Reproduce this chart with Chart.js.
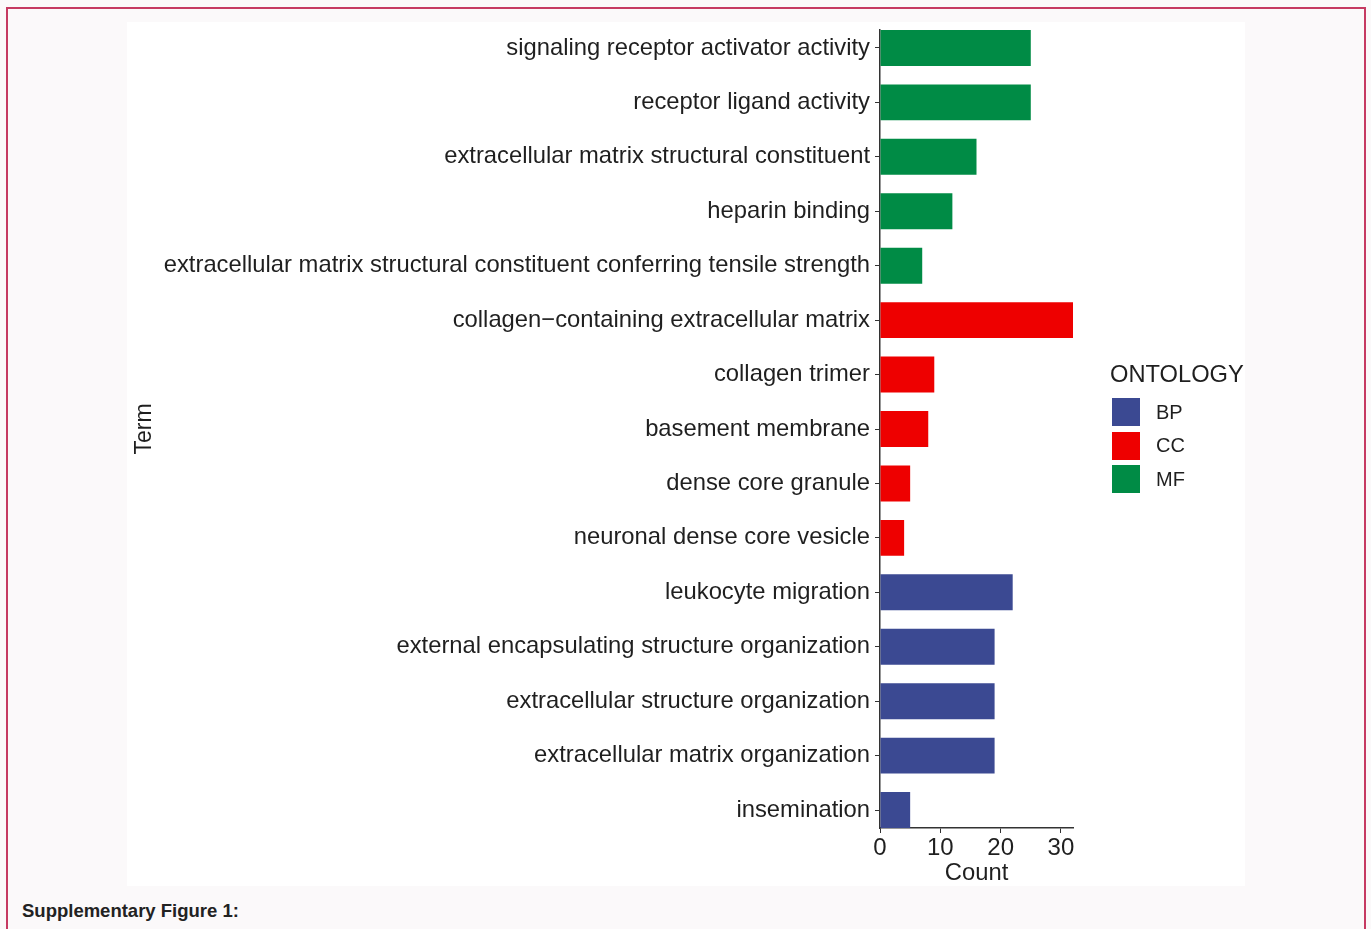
<!DOCTYPE html>
<html>
<head>
<meta charset="utf-8">
<script src="https://cdn.jsdelivr.net/npm/chart.js@4.4.0/dist/chart.umd.min.js"></script>
<style>
  body { margin: 0; background: #fbf9fa; font-family: "Liberation Sans", Arial, sans-serif; }
  #frame { position: absolute; left: 6px; top: 7px; width: 1356px; height: 1000px; border-left: 2px solid #c63a62; border-top: 2px solid #c63a62; border-right: 2px solid #c63a62; }
  #panel { position: absolute; left: 127px; top: 22px; width: 1118px; height: 864px; background: #fff; }
  #wrap { position: absolute; left: 0; top: 0; width: 1118px; height: 864px; }
  #legend { position: absolute; left: 983px; top: 340px; color: #1f1f1f; }
  #legend .title { font-size: 23.7px; line-height: 24px; margin-bottom: 9.25px; }
  #legend .item { display: flex; align-items: center; height: 33.5px; }
  #legend .box { width: 28px; height: 28px; margin-left: 2px; margin-right: 16px; }
  #legend .lab { font-size: 20px; }
  #caption { position: absolute; left: 22px; top: 900px; font: bold 18.5px "Liberation Sans", Arial, sans-serif; color: #222; }
</style>
</head>
<body>
<div id="frame"></div>
<div id="panel">
  <div id="wrap"><canvas id="go-chart"></canvas></div>
  <div id="legend"></div>
</div>
<div id="caption">Supplementary Figure 1:</div>
<script>
// GO terms, top to bottom
const terms = [
  'signaling receptor activator activity',
  'receptor ligand activity',
  'extracellular matrix structural constituent',
  'heparin binding',
  'extracellular matrix structural constituent conferring tensile strength',
  'collagen\u2212containing extracellular matrix',
  'collagen trimer',
  'basement membrane',
  'dense core granule',
  'neuronal dense core vesicle',
  'leukocyte migration',
  'external encapsulating structure organization',
  'extracellular structure organization',
  'extracellular matrix organization',
  'insemination'
];
const counts = [25, 25, 16, 12, 7, 32, 9, 8, 5, 4, 22, 19, 19, 19, 5];
const ontology = ['MF', 'MF', 'MF', 'MF', 'MF', 'CC', 'CC', 'CC', 'CC', 'CC', 'BP', 'BP', 'BP', 'BP', 'BP'];

const ontologyNames = ['BP', 'CC', 'MF'];
const ontologyColors = { BP: '#3B4992', CC: '#EE0000', MF: '#008B45' };

const xTicks = [0, 10, 20, 30];

const textColor = '#1f1f1f';
const axisColor = '#333';
const fontFamily = 'Liberation Sans';

// legend (html, same colours as the bars)
const legend = document.getElementById('legend');
legend.innerHTML = '<div class="title">ONTOLOGY</div>' + ontologyNames.map(o =>
  `<div class="item"><div class="box" style="background:${ontologyColors[o]}"></div><span class="lab">${o}</span></div>`
).join('');

// bars on a numeric row index so the panel edges sit right at the outer bars
const barWidth = 0.66;
const rows = terms.map((t, i) => ({ x: counts[i], y: i }));

new Chart('go-chart', {
  type: 'bar',
  data: {
    datasets: [{
      data: rows,
      backgroundColor: ontology.map(o => ontologyColors[o]),
      barPercentage: barWidth,
      categoryPercentage: 1
    }]
  },
  options: {
    indexAxis: 'y',
    responsive: true,
    maintainAspectRatio: false,
    animation: false,
    layout: { padding: { top: 8, right: 172, left: 0, bottom: 0 } },
    plugins: { legend: { display: false }, tooltip: { enabled: false } },
    scales: {
      x: {
        type: 'linear',
        min: 0,
        max: 32,
        afterBuildTicks: s => { s.ticks = xTicks.map(v => ({ value: v })); },
        afterFit: s => { s.height = 58; s.paddingLeft = 0; s.paddingRight = 0; },
        grid: { drawOnChartArea: false, drawTicks: true, tickLength: 5, color: axisColor },
        border: { display: true, color: axisColor, width: 1.5 },
        ticks: { color: textColor, font: { size: 24, family: fontFamily, lineHeight: 1 }, padding: 3, maxRotation: 0 },
        title: { display: true, text: 'Count', color: textColor, font: { size: 23.8, family: fontFamily, lineHeight: 1.08 }, padding: 0 }
      },
      y: {
        type: 'linear',
        reverse: true,
        offset: false,
        min: -barWidth / 2,
        max: terms.length - 1 + barWidth / 2,
        afterBuildTicks: s => { s.ticks = terms.map((t, i) => ({ value: i })); },
        afterFit: s => { s.width = 753; s.paddingTop = 0; s.paddingBottom = 0; },
        grid: { offset: false, drawOnChartArea: false, drawTicks: true, tickLength: 5, color: axisColor },
        border: { display: true, color: axisColor, width: 1.5 },
        ticks: { color: textColor, font: { size: 23.8, family: fontFamily }, padding: 5, autoSkip: false,
                 callback: v => terms[v] },
        title: { display: true, text: 'Term', color: textColor, font: { size: 23, family: fontFamily }, padding: 4 }
      }
    }
  }
});
</script>
</body>
</html>
